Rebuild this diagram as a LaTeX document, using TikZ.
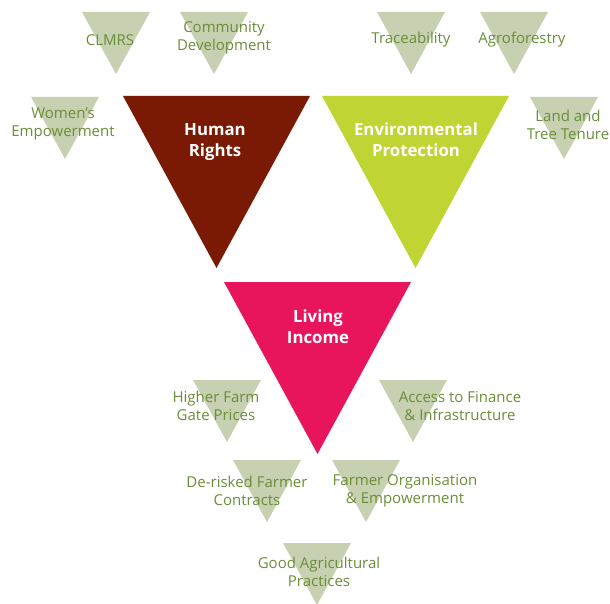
\documentclass[tikz,border=0pt]{standalone}
\usepackage{fontspec}
\setmainfont{Open Sans}
\definecolor{sage}{RGB}{199,208,176}
\definecolor{leaf}{RGB}{106,142,56}
\definecolor{rights}{RGB}{122,26,4}
\definecolor{planet}{RGB}{192,212,52}
\definecolor{income}{RGB}{232,20,92}
\tikzset{
  small tri/.style={fill=sage},
  big tri/.style={fill=#1},
  small label/.style={text=leaf, align=center, inner sep=0pt,
    font=\fontsize{15}{18}\selectfont},
  big label/.style={text=white, align=center, inner sep=0pt,
    font=\bfseries\fontsize{16.8}{21}\selectfont},
}
\begin{document}
\begin{tikzpicture}[x=1pt,y=-1pt]
  \useasboundingbox (0,0) rectangle (610,604);
  % the three pillars
  \fill[big tri=rights] (123,96) -- ++(187,0) -- ++(-93.5,172) -- cycle;
  \fill[big tri=planet] (322,96) -- ++(187,0) -- ++(-93.5,172) -- cycle;
  \fill[big tri=income] (224,282) -- ++(187,0) -- ++(-93.5,172) -- cycle;
  % the small ones
  \foreach \x/\y in {82/12, 180/12, 31/97, 377/12, 480/12, 530/97,
                     193/380, 379/380, 233/460, 332/460, 283/543}
    \fill[small tri] (\x,\y) -- ++(68,0) -- ++(-34,62) -- cycle;
  % labels
  \node[big label] (rights) at (215,142) {Human\\Rights};
  \node[big label] (planet) at (416,140) {Environmental\\Protection};
  \node[big label] (income) at (318,327) {Living\\Income};
  \node[small label] (clmrs) at (110,40) {CLMRS};
  \node[small label] (community) at (224,38) {Community\\Development};
  \node[small label] (women) at (63,124) {Women's\\Empowerment};
  \node[small label] (trace) at (411,40) {Traceability};
  \node[small label] (agro) at (522,40) {Agroforestry};
  \node[small label] (tenure) at (568,125) {Land and\\Tree Tenure};
  \node[small label] (prices) at (216,406) {Higher Farm\\Gate Prices};
  \node[small label] (finance) at (460,406) {Access to Finance\\\& Infrastructure};
  \node[small label] (contracts) at (247,491) {De-risked Farmer\\Contracts};
  \node[small label] (farmerorg) at (405,491) {Farmer Organisation\\\& Empowerment};
  \node[small label] (gap) at (319,572) {Good Agricultural\\Practices};
\end{tikzpicture}
\end{document}
